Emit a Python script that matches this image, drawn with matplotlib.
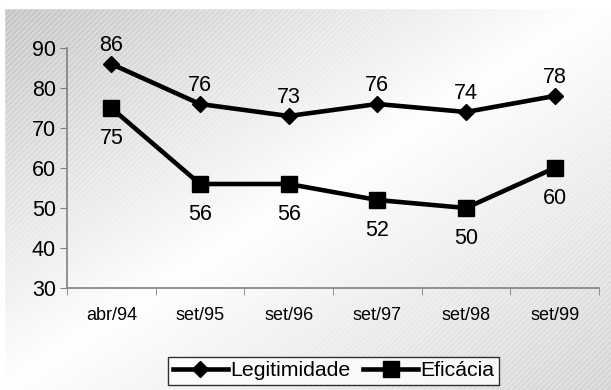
import numpy as np
import matplotlib
matplotlib.use("Agg")
import matplotlib.pyplot as plt
from matplotlib.patches import Rectangle

categories = ["abr/94", "set/95", "set/96", "set/97", "set/98", "set/99"]
legitimidade = [86, 76, 73, 76, 74, 78]
eficacia = [75, 56, 56, 52, 50, 60]
yticks = [30, 40, 50, 60, 70, 80, 90]

plt.rcParams['font.family'] = ['Liberation Sans', 'DejaVu Sans']

W, H = 611, 390
fig = plt.figure(figsize=(W/100, H/100), dpi=100)

# background gradient
bg = fig.add_axes([0, 0, 1, 1], zorder=0)
xx, yy = np.meshgrid(np.linspace(0, 1, 300), np.linspace(0, 1, 200))
s = xx + yy - 1.0
g = np.where(s < 0, 1 - 0.24 * (-s), 1 - 0.17 * s)
g = np.clip(g, 0, 1)
img = np.dstack([g, g, g])
bg.imshow(img, extent=[0, 1, 0, 1], origin='upper', aspect='auto')
bg.add_patch(Rectangle((0, 0), 1, 1, facecolor='none', edgecolor=(1, 1, 1, 0.35),
                       hatch='//////', linewidth=0))
bg.set_xlim(0, 1); bg.set_ylim(0, 1)
bg.axis('off')
bg.add_patch(Rectangle((0, 1 - 8/H), 1, 8/H, color='white', zorder=3))
bg.add_patch(Rectangle((0, 0), 4/W, 1, color='white', zorder=3))

ax = fig.add_axes([67/W, (H-288)/H, (599-67)/W, (288-48)/H], zorder=1)
ax.patch.set_alpha(0)
x = np.arange(len(categories))
ax.plot(x, legitimidade, color='black', lw=3.3, marker='D', ms=8, zorder=3,
        label='Legitimidade')
ax.plot(x, eficacia, color='black', lw=3.3, marker='s', ms=11, zorder=3,
        label='Eficácia')

for xi, v in zip(x, legitimidade):
    ax.annotate(str(v), (xi, v), xytext=(0, 13), textcoords='offset points',
                ha='center', va='center', fontsize=15.5)
for xi, v in zip(x, eficacia):
    ax.annotate(str(v), (xi, v), xytext=(0, -22), textcoords='offset points',
                ha='center', va='center', fontsize=15.5)

ax.set_xlim(-0.5, len(categories) - 0.5)
ax.set_ylim(30, 90)
ax.set_yticks(yticks)
ax.set_yticklabels([str(t) for t in yticks], fontsize=15.5)
ax.set_xticks(x)
ax.set_xticklabels(categories, fontsize=13)
ax.tick_params(axis='x', length=0, pad=14)
ax.set_xticks(np.arange(-0.5, len(categories)), minor=True)
ax.tick_params(axis='x', which='minor', length=5, direction='out', color='#808080')
ax.tick_params(axis='y', length=5, direction='out', color='#808080', pad=3)
for sp in ['top', 'right']:
    ax.spines[sp].set_visible(False)
for sp in ['left', 'bottom']:
    ax.spines[sp].set_color('#808080')
    ax.spines[sp].set_linewidth(1.2)

leg = fig.legend(loc='center', bbox_to_anchor=((162+505)/2/W, 1-(354+388)/2/H),
                 ncol=2, fontsize=15.3, frameon=True, fancybox=False,
                 edgecolor='black', facecolor='white', handlelength=2.6,
                 handletextpad=0.1, columnspacing=0.6, borderpad=0.2,
                 borderaxespad=0)
leg.get_frame().set_linewidth(1)

fig.savefig('out.png', dpi=100)
